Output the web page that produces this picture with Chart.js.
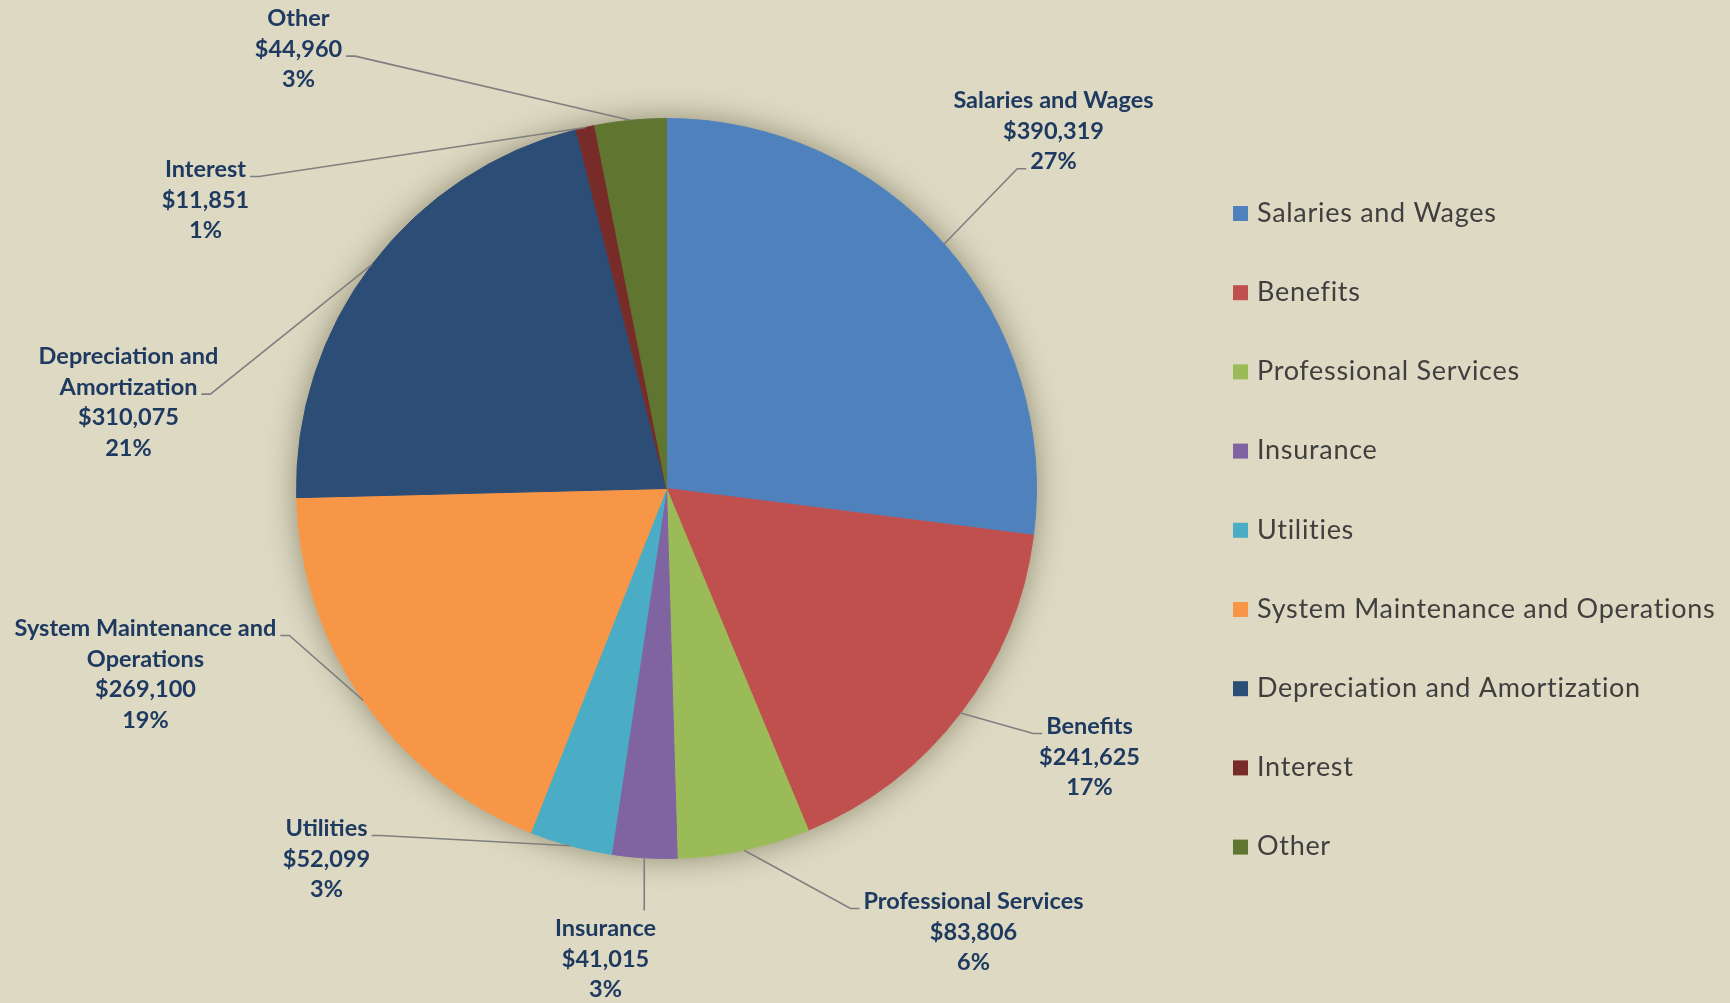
<!DOCTYPE html>
<html>
<head>
<meta charset="utf-8">
<title>Expenses</title>
<script src="https://cdn.jsdelivr.net/npm/chart.js@4.4.0/dist/chart.umd.min.js"></script>
<style>
    html, body { margin: 0; padding: 0; background: #ddd9c3; }
    #wrap { width: 1730px; height: 1003px; position: relative; }
</style>
</head>
<body>
<div id="wrap"><canvas id="expenseChart" width="1730" height="1003"></canvas></div>
<script>
    // data
    const categories = [
        'Salaries and Wages', 'Benefits', 'Professional Services', 'Insurance', 'Utilities',
        'System Maintenance and Operations', 'Depreciation and Amortization', 'Interest', 'Other'
    ];
    const amounts = [390319, 241625, 83806, 41015, 52099, 269100, 310075, 11851, 44960];
    const percentLabels = ['27%', '17%', '6%', '3%', '3%', '19%', '21%', '1%', '3%'];
    // how the category names wrap in the data labels
    const labelNames = [
        ['Salaries and Wages'], ['Benefits'], ['Professional Services'], ['Insurance'], ['Utilities'],
        ['System Maintenance and', 'Operations'], ['Depreciation and', 'Amortization'], ['Interest'], ['Other']
    ];
    const sliceColors = ['#4f81bd', '#c0504d', '#9bbb59', '#8064a2', '#4bacc6', '#f79646', '#2c4d75', '#772c2a', '#5f7530'];

    // label placement, relative to the pie centre (px); side = where the leader attaches
    const labelLayout = [
        { dx: 387, dy: -388, side: 'left', line: 2 },
        { dx: 423, dy: 238, side: 'left', line: 0 },
        { dx: 307, dy: 413, side: 'left', line: 0 },
        { dx: -61, dy: 440, side: 'top', line: 0 },
        { dx: -340, dy: 340, side: 'right', line: 0 },
        { dx: -521, dy: 140, side: 'right', line: 0 },
        { dx: -538, dy: -132, side: 'right', line: 1 },
        { dx: -461, dy: -319, side: 'right', line: 0 },
        { dx: -368, dy: -470, side: 'right', line: 1 }
    ];

    const BG = '#ddd9c3';
    const LABEL_COLOR = '#1f3a60';
    const LABEL_FONT = 'bold 23.5px Lato, "Open Sans", sans-serif';
    const LINE_H = 30.6;

    function money(v) {
        return '$' + v.toLocaleString('en-US');
    }

    const pieShadow = {
        id: 'pieShadow',
        beforeDatasetsDraw(chart) {
            const arc = chart.getDatasetMeta(0).data[0];
            if (!arc) return;
            const { x, y, outerRadius } = arc.getProps(['x', 'y', 'outerRadius'], true);
            const ctx = chart.ctx;
            ctx.save();
            ctx.shadowColor = 'rgba(70, 60, 30, 0.5)';
            ctx.shadowBlur = 30;
            ctx.fillStyle = BG;
            ctx.beginPath();
            ctx.arc(x, y, outerRadius, 0, Math.PI * 2);
            ctx.fill();
            ctx.restore();
        }
    };

    const dataLabels = {
        id: 'dataLabels',
        afterDatasetsDraw(chart) {
            const ctx = chart.ctx;
            const meta = chart.getDatasetMeta(0);
            ctx.save();
            ctx.font = LABEL_FONT;
            ctx.textAlign = 'center';
            ctx.textBaseline = 'middle';
            meta.data.forEach((arc, i) => {
                const p = arc.getProps(['x', 'y', 'startAngle', 'endAngle', 'outerRadius'], true);
                const mid = (p.startAngle + p.endAngle) / 2;
                const ax = p.x + Math.cos(mid) * p.outerRadius;
                const ay = p.y + Math.sin(mid) * p.outerRadius;
                const lay = labelLayout[i];
                const cx = p.x + lay.dx;
                const y0 = p.y + lay.dy;
                const lines = labelNames[i].concat([money(amounts[i]), percentLabels[i]]);

                ctx.fillStyle = LABEL_COLOR;
                lines.forEach((t, k) => ctx.fillText(t, cx, y0 + k * LINE_H));

                // leader line
                const w = ctx.measureText(lines[lay.line]).width;
                const ly = y0 + lay.line * LINE_H + 7;
                ctx.strokeStyle = '#7f7f7f';
                ctx.lineWidth = 1.6;
                ctx.beginPath();
                if (lay.side === 'top') {
                    ctx.moveTo(ax, ay);
                    ctx.lineTo(ax, y0 - 18);
                } else if (lay.side === 'left') {
                    const ex = cx - w / 2 - 4;
                    ctx.moveTo(ax, ay);
                    ctx.lineTo(ex - 9, ly);
                    ctx.lineTo(ex, ly);
                } else {
                    const ex = cx + w / 2 + 4;
                    ctx.moveTo(ax, ay);
                    ctx.lineTo(ex + 9, ly);
                    ctx.lineTo(ex, ly);
                }
                ctx.stroke();
            });
            ctx.restore();
        }
    };

    const sideLegend = {
        id: 'sideLegend',
        afterDraw(chart) {
            const ctx = chart.ctx;
            ctx.save();
            ctx.font = '27px Lato, "Open Sans", sans-serif';
            ctx.letterSpacing = '0.7px';
            ctx.textAlign = 'left';
            ctx.textBaseline = 'middle';
            chart.data.labels.forEach((name, i) => {
                const y = 213 + i * 79.2;
                ctx.fillStyle = sliceColors[i];
                ctx.fillRect(1233, y - 7, 15, 15);
                ctx.fillStyle = '#3f3f3f';
                ctx.fillText(name, 1257, y);
            });
            ctx.restore();
        }
    };

    const chart = new Chart(document.getElementById('expenseChart'), {
        type: 'pie',
        data: {
            labels: categories,
            datasets: [{
                data: amounts,
                backgroundColor: sliceColors,
                borderColor: sliceColors,
                borderWidth: 1
            }]
        },
        options: {
            responsive: false,
            animation: false,
            layout: { padding: { left: 296, top: 118, right: 693, bottom: 144 } },
            plugins: {
                legend: { display: false },
                tooltip: { enabled: false }
            }
        },
        plugins: [pieShadow, dataLabels, sideLegend]
    });
</script>
</body>
</html>
